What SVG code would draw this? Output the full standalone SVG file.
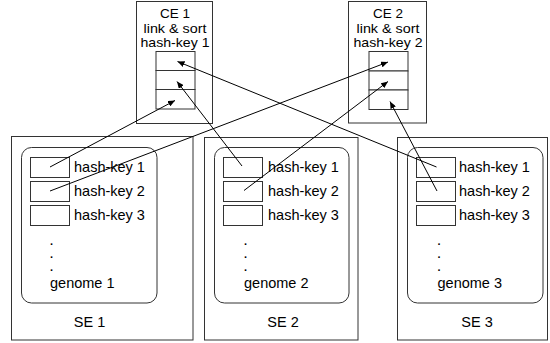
<svg xmlns="http://www.w3.org/2000/svg" width="550" height="343" viewBox="0 0 550 343">
<defs>
<marker id="ah" markerUnits="userSpaceOnUse" markerWidth="8" markerHeight="6" refX="7" refY="3" orient="auto">
<path d="M0,0 L7,3 L0,6 Z" fill="#000"/>
</marker>
<style>
.box{fill:#fff;stroke:#333;stroke-width:1}
.cell{fill:#fff;stroke:#333;stroke-width:1}
.t{font-family:"Liberation Sans",Arial,sans-serif;font-size:14.5px;fill:#000}
.h{font-family:"Liberation Sans",Arial,sans-serif;font-size:13px;fill:#000;text-anchor:middle}
.d{font-family:"Liberation Sans",Arial,sans-serif;font-size:11px;font-weight:bold;fill:#000}
.c{text-anchor:middle}
.ln{stroke:#000;stroke-width:1;fill:none;marker-end:url(#ah)}
</style>
</defs>
<rect x="0" y="0" width="550" height="343" fill="#fff"/>
<g id="CE1">
<rect class="box" x="136.5" y="1.5" width="76" height="122"/>
<text class="h" x="175" y="18.3" textLength="30" lengthAdjust="spacingAndGlyphs">CE 1</text>
<text class="h" x="175" y="32.8" textLength="63" lengthAdjust="spacingAndGlyphs">link &amp; sort</text>
<text class="h" x="175" y="47.3" textLength="69" lengthAdjust="spacingAndGlyphs">hash-key 1</text>
<rect class="cell" x="156" y="51.5" width="39" height="19"/>
<rect class="cell" x="156" y="70.5" width="39" height="19"/>
<rect class="cell" x="156" y="89.5" width="39" height="19.5"/>
</g>
<g id="CE2">
<rect class="box" x="348.5" y="1.5" width="78" height="121.5"/>
<text class="h" x="388" y="18.3" textLength="30" lengthAdjust="spacingAndGlyphs">CE 2</text>
<text class="h" x="388" y="32.8" textLength="63" lengthAdjust="spacingAndGlyphs">link &amp; sort</text>
<text class="h" x="388" y="47.3" textLength="69" lengthAdjust="spacingAndGlyphs">hash-key 2</text>
<rect class="cell" x="369" y="51.5" width="39" height="19.5"/>
<rect class="cell" x="369" y="71" width="39" height="19"/>
<rect class="cell" x="369" y="90" width="39" height="19.5"/>
</g>
<g id="SE1">
<rect class="box" x="11.5" y="136.5" width="181.5" height="203.5"/>
<rect class="box" x="21.5" y="147.5" width="135.5" height="155.5" rx="10"/>
<rect class="cell" x="30.5" y="157.5" width="39" height="20"/>
<rect class="cell" x="30.5" y="181.5" width="39" height="20"/>
<rect class="cell" x="30.5" y="205.5" width="39" height="20"/>
<text class="t" x="74" y="172">hash-key 1</text>
<text class="t" x="74" y="196">hash-key 2</text>
<text class="t" x="74" y="220">hash-key 3</text>
<text class="d" x="50" y="245">.</text>
<text class="d" x="50" y="258">.</text>
<text class="d" x="50" y="271">.</text>
<text class="t" x="50" y="288">genome 1</text>
<text class="t c" x="89.5" y="327">SE 1</text>
</g>
<g id="SE2">
<rect class="box" x="204.5" y="137.5" width="153.5" height="202.5"/>
<rect class="box" x="214.5" y="147.5" width="134.5" height="155.5" rx="10"/>
<rect class="cell" x="223.5" y="157.5" width="39" height="20"/>
<rect class="cell" x="223.5" y="181.5" width="39" height="20"/>
<rect class="cell" x="223.5" y="205.5" width="39" height="20"/>
<text class="t" x="268" y="172">hash-key 1</text>
<text class="t" x="268" y="196">hash-key 2</text>
<text class="t" x="268" y="220">hash-key 3</text>
<text class="d" x="244" y="245">.</text>
<text class="d" x="244" y="258">.</text>
<text class="d" x="244" y="271">.</text>
<text class="t" x="244" y="288">genome 2</text>
<text class="t c" x="283" y="327">SE 2</text>
</g>
<g id="SE3">
<rect class="box" x="397.5" y="137.5" width="150" height="202.5"/>
<rect class="box" x="407.5" y="147.5" width="135.5" height="155.5" rx="10"/>
<rect class="cell" x="416.5" y="157.5" width="39" height="20"/>
<rect class="cell" x="416.5" y="181.5" width="39" height="20"/>
<rect class="cell" x="416.5" y="205.5" width="39" height="20"/>
<text class="t" x="459" y="172">hash-key 1</text>
<text class="t" x="459" y="196">hash-key 2</text>
<text class="t" x="459" y="220">hash-key 3</text>
<text class="d" x="437.5" y="245">.</text>
<text class="d" x="437.5" y="258">.</text>
<text class="d" x="437.5" y="271">.</text>
<text class="t" x="437.5" y="288">genome 3</text>
<text class="t c" x="477" y="327">SE 3</text>
</g>
<g id="connectors">
<line class="ln" x1="50" y1="167" x2="175" y2="100.5"/>
<line class="ln" x1="50" y1="191" x2="388" y2="62"/>
<line class="ln" x1="242" y1="166" x2="177" y2="81.5"/>
<line class="ln" x1="244" y1="190.5" x2="388" y2="81.5"/>
<line class="ln" x1="436.5" y1="167" x2="177.5" y2="61.5"/>
<line class="ln" x1="437" y1="191" x2="390" y2="101.5"/>
</g>
</svg>
